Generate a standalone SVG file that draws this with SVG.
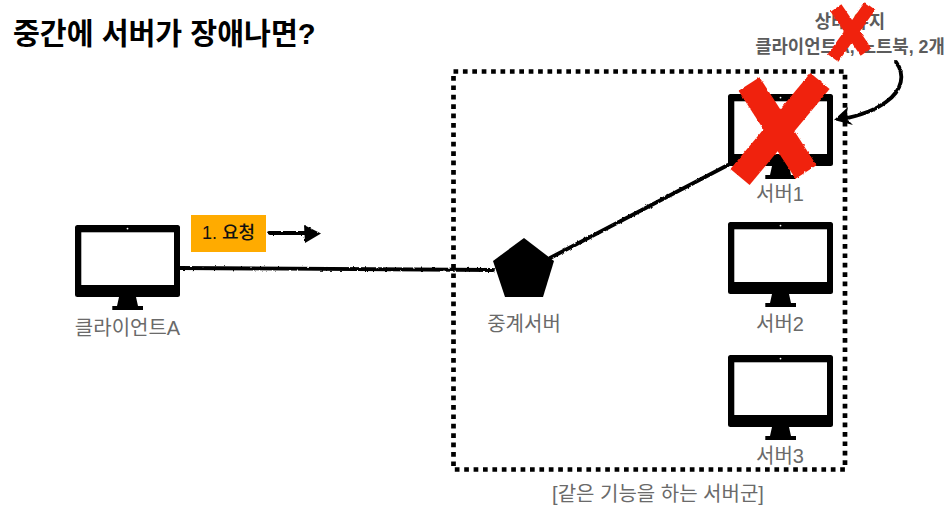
<svg xmlns="http://www.w3.org/2000/svg" width="949" height="532" viewBox="0 0 949 532">
<style>
text{font-family:"Liberation Sans","Noto Sans CJK KR",sans-serif}
.lbl{font-size:20px;fill:#6a6a6a;text-anchor:middle}
.title{font-size:29.200px;font-weight:700;fill:#000}
.cap{font-size:17.800px;font-weight:700;fill:#5c5c5c;text-anchor:middle}
.wire{fill:none;stroke:#000;stroke-width:3.800;stroke-linecap:round}
.x{fill:none;stroke:#f0240c;stroke-linecap:butt}
</style>
<defs>
<filter id="rough" x="0" y="0" width="949" height="532" filterUnits="userSpaceOnUse">
<feTurbulence type="fractalNoise" baseFrequency="0.3" numOctaves="2" seed="3" result="n"/>
<feDisplacementMap in="SourceGraphic" in2="n" scale="2.500" xChannelSelector="R" yChannelSelector="G"/>
</filter>
<g id="mon">
<rect x="0" y="0" width="105" height="72" rx="2.5" fill="#000"/>
<rect x="6.3" y="7.3" width="92.7" height="52.7" fill="#fff"/>
<circle cx="52.5" cy="3.6" r="0.9" fill="#fff"/>
<path d="M44 72H61L63 81H68V85H37.300V81H42Z" fill="#000"/>
</g>
</defs>
<rect width="949" height="532" fill="#fff"/>
<text class="title" x="13" y="44">중간에 서버가 장애나면?</text>
<g id="connectors" filter="url(#rough)">
<path class="wire" d="M180 268L493 270"/>
<path class="wire" d="M550 258L728 165"/>
<path class="wire" d="M269 233L306 233"/>
<path d="M304 225L321 233.500L305 243Z" fill="#000"/>
<path class="wire" d="M896 62C905 74 903 90 886 102C874 111 858 116 842 119"/>
<path d="M834 120L848 107L846 118L853 125Z" fill="#000"/>
</g>
<g id="group">
<rect x="453.500" y="71.500" width="391.500" height="398" fill="none" stroke="#000" stroke-width="4.700" stroke-dasharray="4.700 4.700"/>
<text class="lbl" x="658" y="501">[같은 기능을 하는 서버군]</text>
</g>
<g id="client"><use href="#mon" x="75" y="225"/><text class="lbl" x="127.500" y="335">클라이언트A</text></g>
<g id="request"><rect x="191" y="215" width="75" height="37" fill="#ffab00"/><text x="228.500" y="239" font-size="18" font-weight="500" fill="#111" text-anchor="middle">1. 요청</text></g>
<g id="proxy"><path d="M524 238L554 261L543 297H505L493 261Z" fill="#000"/><text class="lbl" x="524" y="331">중계서버</text></g>
<g id="server1"><use href="#mon" x="728" y="94"/><text class="lbl" x="780" y="201">서버1</text></g>
<g id="server2"><use href="#mon" x="728" y="222"/><text class="lbl" x="780" y="331">서버2</text></g>
<g id="server3"><use href="#mon" x="728" y="355"/><text class="lbl" x="780" y="463">서버3</text></g>
<g id="state"><text class="cap" x="850" y="28">상태 유지</text><text class="cap" x="850" y="53">클라이언트A, 노트북, 2개</text></g>
<g id="cross-state" filter="url(#rough)"><path class="x" stroke-width="13" d="M836 8L866 52"/><path class="x" stroke-width="13" d="M870 6L833 58"/></g>
<g id="cross-server" filter="url(#rough)"><path class="x" stroke-width="25" d="M749 84L806 172"/><path class="x" stroke-width="25" d="M820 81L740 177"/></g>
</svg>
